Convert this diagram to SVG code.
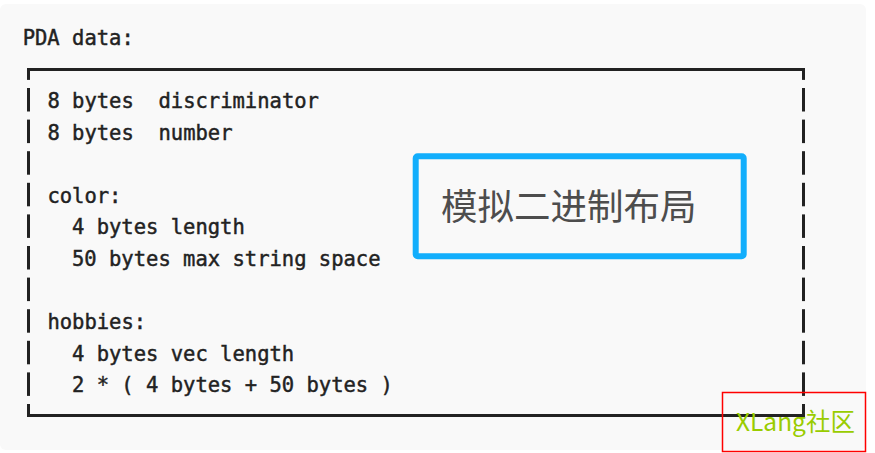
<svg xmlns="http://www.w3.org/2000/svg" width="875" height="453" viewBox="0 0 875 453">
  <style>
    .mono { font-family: "DejaVu Sans Mono", "Liberation Mono", monospace; font-size: 20.5px; fill: #222222; stroke: #222222; stroke-width: 0.45px; white-space: pre; }
    .bar { fill: #222222; }
    .cjk { font-family: "Noto Sans CJK SC", "Noto Sans", sans-serif; }
  </style>
  <rect x="0" y="0" width="875" height="453" fill="#ffffff"/>
  <rect id="panel" x="0" y="4" width="866" height="446" rx="6" fill="#f9f9f9"/>

  <g id="code-block">
    <text class="mono" x="22.7" y="44.8">PDA data:</text>
    <!-- box frame -->
    <rect class="bar" x="27" y="68" width="778" height="3"/>
    <rect class="bar" x="27" y="414" width="778" height="3"/>
    <!-- left side bars -->
    <rect class="bar" x="27" y="68" width="3" height="11.9"/>
    <rect class="bar" x="27" y="88" width="3" height="23.5"/>
    <rect class="bar" x="27" y="119.6" width="3" height="23.5"/>
    <rect class="bar" x="27" y="151.2" width="3" height="23.5"/>
    <rect class="bar" x="27" y="182.8" width="3" height="23.5"/>
    <rect class="bar" x="27" y="214.4" width="3" height="23.5"/>
    <rect class="bar" x="27" y="246" width="3" height="23.5"/>
    <rect class="bar" x="27" y="277.6" width="3" height="23.5"/>
    <rect class="bar" x="27" y="309.2" width="3" height="23.5"/>
    <rect class="bar" x="27" y="340.8" width="3" height="23.5"/>
    <rect class="bar" x="27" y="372.4" width="3" height="23.5"/>
    <rect class="bar" x="27" y="404" width="3" height="13"/>
    <!-- right side bars -->
    <rect class="bar" x="802" y="68" width="3" height="11.9"/>
    <rect class="bar" x="802" y="88" width="3" height="23.5"/>
    <rect class="bar" x="802" y="119.6" width="3" height="23.5"/>
    <rect class="bar" x="802" y="151.2" width="3" height="23.5"/>
    <rect class="bar" x="802" y="182.8" width="3" height="23.5"/>
    <rect class="bar" x="802" y="214.4" width="3" height="23.5"/>
    <rect class="bar" x="802" y="246" width="3" height="23.5"/>
    <rect class="bar" x="802" y="277.6" width="3" height="23.5"/>
    <rect class="bar" x="802" y="309.2" width="3" height="23.5"/>
    <rect class="bar" x="802" y="340.8" width="3" height="23.5"/>
    <rect class="bar" x="802" y="372.4" width="3" height="23.5"/>
    <rect class="bar" x="802" y="404" width="3" height="13"/>
    <!-- content -->
    <text class="mono" x="47.4" y="108">8 bytes  discriminator</text>
    <text class="mono" x="47.4" y="139.6">8 bytes  number</text>
    <text class="mono" x="47.4" y="202.8">color:</text>
    <text class="mono" x="72" y="234.4">4 bytes length</text>
    <text class="mono" x="72" y="266">50 bytes max string space</text>
    <text class="mono" x="47.4" y="329.2">hobbies:</text>
    <text class="mono" x="72" y="360.8">4 bytes vec length</text>
    <text class="mono" x="72" y="392.4">2 * ( 4 bytes + 50 bytes )</text>
  </g>

  <g id="label-box">
    <rect x="415.7" y="156.2" width="328" height="100" rx="2" fill="none" stroke="#12aefc" stroke-width="6"/>
    <text class="cjk" x="441" y="220" font-size="36.5" fill="#4d4d4d">模拟二进制布局</text>
  </g>

  <g id="watermark">
    <rect x="722.5" y="392.5" width="143" height="59" fill="none" stroke="#ff0000" stroke-width="1.5"/>
    <text class="cjk" x="736" y="430.5" font-size="24.5" fill="#99cc00">XLang社区</text>
  </g>
</svg>
